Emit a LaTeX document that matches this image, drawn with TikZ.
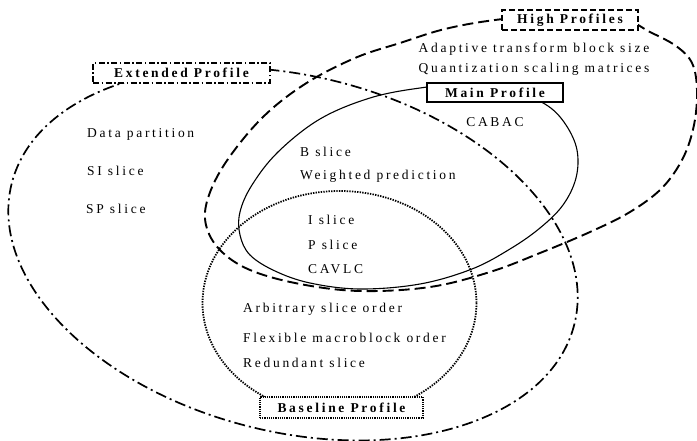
\documentclass[tikz,border=0pt]{standalone}
\usepackage{fontspec}
\setmainfont{Liberation Serif}[LetterSpace=20]
\begin{document}
\begin{tikzpicture}[x=1pt,y=-1pt,
  txt/.style={font=\fontsize{13.5pt}{16pt}\selectfont, inner sep=0pt},
  boxlbl/.style={font=\fontsize{13.5pt}{16pt}\selectfont\bfseries, fill=white, inner sep=0pt, minimum height=20pt},
  hiline/.style={line width=1.9pt, dash pattern=on 11pt off 5pt},
  extline/.style={line width=1.7pt, dash pattern=on 11pt off 4pt on 2pt off 4pt},
  mainline/.style={line width=1.1pt},
  basedots/.style={line width=1.8pt, dash pattern=on 1.4pt off 1.2pt}
]
\useasboundingbox (0,0) rectangle (697,441);

% Extended profile (dash-dot)
\draw[extline, rotate around={-14:(293,254)}] (293,254) ellipse [x radius=290, y radius=178];

% High profiles (dashed)
\draw[hiline] plot[smooth cycle, tension=0.6] coordinates {
 (560,14) (620,18) (650,32) (676,46) (692,63) (697,90) (694,125) (683,158)
 (662,188) (630,212) (590,232) (540,253) (490,272) (430,287) (360,291)
 (300,284) (250,270) (220,250) (206,225) (208,198) (226,162) (262,118)
 (305,84) (355,58) (400,43) (445,29) (495,20)};

% Main profile (solid)
\draw[mainline] plot[smooth cycle, tension=0.6] coordinates {
 (470,84) (520,94) (548,106) (566,125) (577,150) (576,178) (563,205)
 (540,228) (510,249) (472,269) (420,284) (360,289) (310,283) (275,271)
 (250,255) (240,235) (240,212) (252,185) (278,152) (320,119) (370,98) (420,88)};

% Baseline profile (dotted)
\draw[basedots] (339.5,303) ellipse [x radius=137, y radius=112];

% Label boxes
\node[boxlbl, draw, line width=1.6pt, dash pattern=on 6pt off 3pt, minimum width=136pt] (hp) at (570,20) {High Profiles};
\node[boxlbl, draw, line width=1.4pt, dash pattern=on 6pt off 2.5pt on 1.5pt off 2.5pt, minimum width=177pt] (ep) at (181.5,73) {Extended Profile};
\node[boxlbl, draw, line width=1.1pt, minimum width=136pt, minimum height=19pt] (mp) at (495,92.5) {Main Profile};
\node[boxlbl, draw, line width=1.5pt, dash pattern=on 1.2pt off 1pt, minimum width=163pt, minimum height=21pt] (bp) at (341.5,407.5) {Baseline Profile};

% Texts
\node[txt] (ats) at (534,49) {Adaptive transform block size};
\node[txt] (qsm) at (534,69) {Quantization scaling matrices};
\node[txt] (cabac) at (495,122) {CABAC};

\node[txt, anchor=west] (dp) at (87,134) {Data partition};
\node[txt, anchor=west] (si) at (87,171) {SI slice};
\node[txt, anchor=west] (sp) at (86,209) {SP slice};

\node[txt, anchor=west] (bs) at (300,152) {B slice};
\node[txt, anchor=west] (wp) at (300,176) {Weighted prediction};

\node[txt, anchor=west] (is) at (308,220) {I slice};
\node[txt, anchor=west] (ps) at (308,245) {P slice};
\node[txt, anchor=west] (cavlc) at (308,269) {CAVLC};

\node[txt, anchor=west] (aso) at (243,309) {Arbitrary slice order};
\node[txt, anchor=west] (fmo) at (243,338) {Flexible macroblock order};
\node[txt, anchor=west] (rs) at (243,363) {Redundant slice};
\end{tikzpicture}
\end{document}
